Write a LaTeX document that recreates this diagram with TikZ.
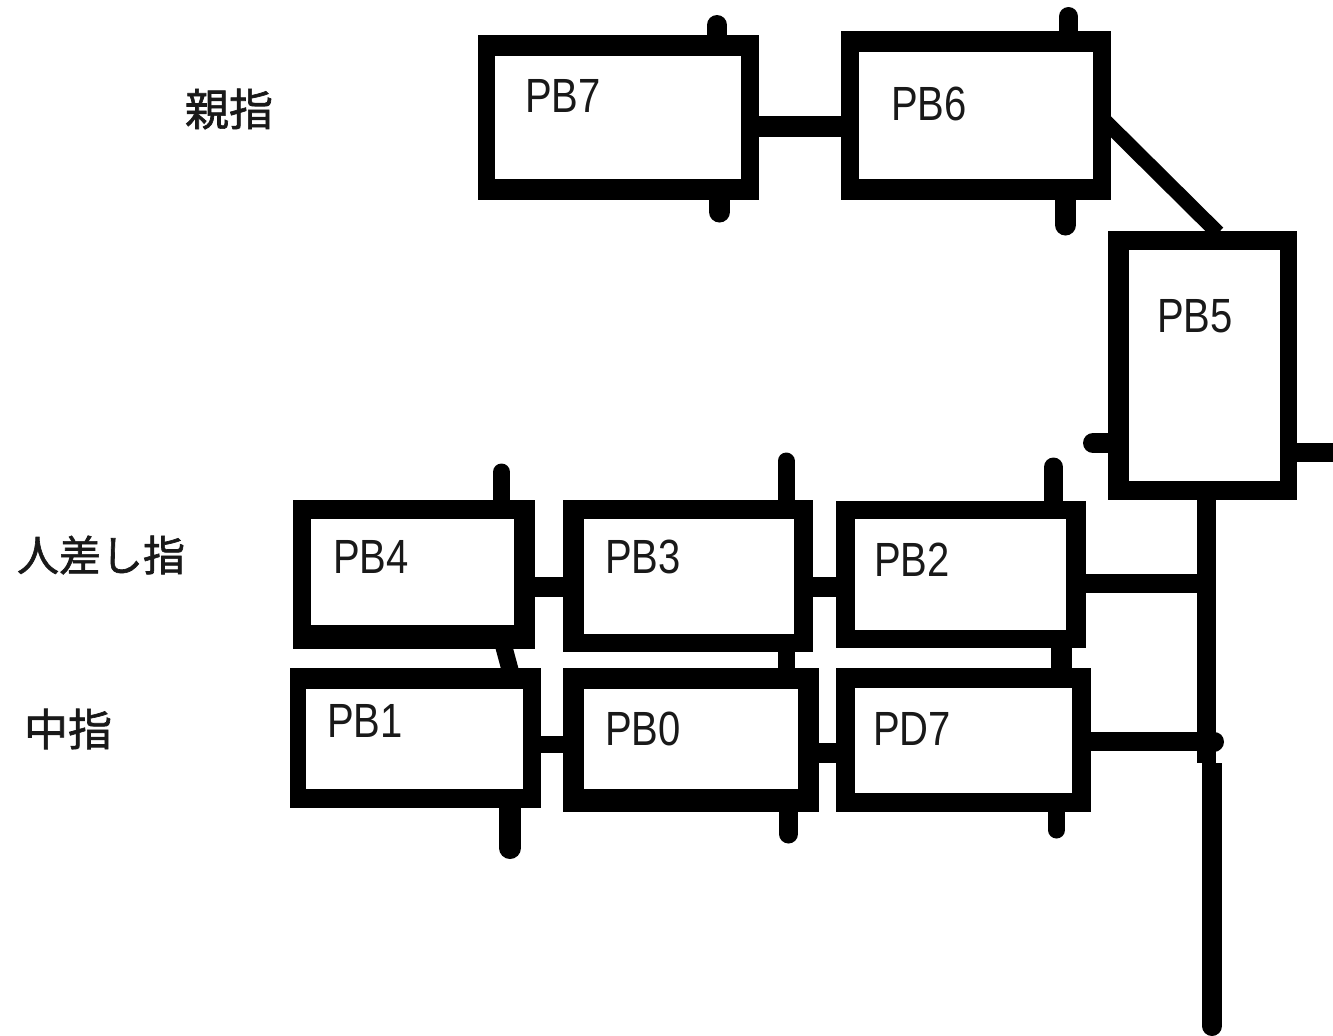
\documentclass[tikz,border=0pt]{standalone}
\usepackage{graphicx}
\usepackage{fontspec}
\setmainfont{Liberation Sans}
\newfontfamily\cjk[FakeBold=1.5]{Noto Sans CJK JP}
\tikzset{
  x=0.5pt,y=-0.5pt,
  frame/.style={fill=black,inner sep=0pt,outer sep=0pt,anchor=north west},
  hole/.style={fill=white,inner sep=0pt,outer sep=0pt,anchor=north west},
  lab/.style={font=\fontsize{20}{22}\selectfont,inner sep=0pt,text=black!90},
  jp/.style={font=\cjk\fontsize{#1}{24}\selectfont,inner sep=0pt,text=black!90},
  wire/.style={line width=#1,black},
  stub/.style={line width=#1,black,line cap=round}
}
\newcommand{\bx}[9]{%
  \node[frame,minimum width=(#4-#2)*0.5pt,minimum height=(#5-#3)*0.5pt] (#1) at (#2,#3) {};
  \node[hole,minimum width=(#8-#6)*0.5pt,minimum height=(#9-#7)*0.5pt] (#1i) at (#6,#7) {};}
\newcommand{\tall}[1]{\scalebox{1}[1.2]{#1}}
\begin{document}
\begin{tikzpicture}
\useasboundingbox (0,0) rectangle (1333,1035);
% boxes
\bx{pb7}{478}{35}{759}{200}{495}{56}{741}{179}
\bx{pb6}{841}{31}{1111}{200}{859}{52}{1093}{179}
\bx{pb5}{1108}{231}{1297}{500}{1129}{250}{1280}{481}
\bx{pb4}{293}{500}{535}{649}{311}{519}{514}{625}
\bx{pb3}{563}{500}{813}{652}{584}{519}{794}{634}
\bx{pb2}{836}{501}{1086}{648}{855}{519}{1066}{630}
\bx{pb1}{290}{668}{541}{808}{306}{689}{523}{789}
\bx{pb0}{563}{668}{819}{812}{584}{689}{798}{789}
\bx{pd7}{836}{668}{1091}{812}{855}{688}{1072}{793}
% stubs
\coordinate (s7t) at (717,25); \coordinate (s7b) at (719.5,212);
\coordinate (s6t) at (1068.5,16.5); \coordinate (s6b) at (1065.5,225);
\coordinate (s5l) at (1093,443); \coordinate (s5r) at (1333,452.5);
\coordinate (s4t) at (501.5,472); \coordinate (s3t) at (786,461); \coordinate (s2t) at (1053.5,467);
\coordinate (s1b) at (510,848); \coordinate (s0b) at (788.5,834); \coordinate (sdb) at (1056.5,830);
\draw[stub=10pt] (s7t) -- (s7t |- pb7.north);
\draw[stub=10.5pt] (s7b) -- (s7b |- pb7.south);
\draw[stub=9.5pt] (s6t) -- (s6t |- pb6.north);
\draw[stub=10.5pt] (s6b) -- (s6b |- pb6.south);
\draw[stub=10pt] (s5l) -- (s5l -| pb5.west);
\draw[wire=9.5pt] (s5r) -- (s5r -| pb5.east);
\draw[stub=8.5pt] (s4t) -- (s4t |- pb4.north);
\draw[stub=8.5pt] (s3t) -- (s3t |- pb3.north);
\draw[stub=9.5pt] (s2t) -- (s2t |- pb2.north);
\draw[stub=11pt] (s1b) -- (s1b |- pb1.south);
\draw[stub=9.5pt] (s0b) -- (s0b |- pb0.south);
\draw[stub=8.5pt] (sdb) -- (sdb |- pd7.south);
% links between the two rows
\coordinate (v41a) at (502,640); \coordinate (v41b) at (512,677);
\coordinate (v30) at (786,660); \coordinate (v27) at (1061,660);
\draw[wire=8.5pt] (v41a) -- (v41b);
\draw[wire=8.5pt] (v30 |- pb3.south) -- (v30 |- pb0.north);
\draw[wire=10.5pt] (v27 |- pb2.south) -- (v27 |- pd7.north);
% horizontal links
\coordinate (a76) at (800,126.5);
\coordinate (a43) at (550,587);
\coordinate (a32) at (825,587);
\coordinate (a10) at (552,744.5);
\coordinate (a07) at (828,753);
\draw[wire=10.5pt] (pb7.east |- a76) -- (pb6.west |- a76);
\draw[wire=10pt] (pb4.east |- a43) -- (pb3.west |- a43);
\draw[wire=10pt] (pb3.east |- a32) -- (pb2.west |- a32);
\draw[wire=8.5pt] (pb1.east |- a10) -- (pb0.west |- a10);
\draw[wire=10pt] (pb0.east |- a07) -- (pd7.west |- a07);
% diagonal link
\coordinate (a65) at (1105,121);
\coordinate (a56) at (1218,233);
\draw[wire=7.5pt] (a65) -- (a56);
% bus
\coordinate (bus0) at (1206.5,600);
\coordinate (busm) at (1206.5,763);
\coordinate (bus1) at (1212,763);
\coordinate (bus2) at (1212,1025);
\coordinate (b2) at (1150,583.5);
\coordinate (b7) at (1150,741.5);
\coordinate (dot) at (1214,741.5);
\draw[wire=9.5pt] (bus0 |- pb5.south) -- (busm);
\draw[wire=10pt] (bus1) -- (bus2);
\draw[stub=10pt] (bus2) -- ++(0,1);
\draw[wire=9.5pt] (pb2.east |- b2) -- (bus0 |- b2);
\draw[wire=9.5pt] (pd7.east |- b7) -- (bus0 |- b7);
\draw[stub=10pt] (bus0 |- dot) -- (dot);
% labels
\node[lab] (t7) at (563,96) {\tall{PB7}};
\node[lab] (t6) at (929,104) {\tall{PB6}};
\node[lab] (t5) at (1195,316) {\tall{PB5}};
\node[lab] (t4) at (371,557) {\tall{PB4}};
\node[lab] (t3) at (643,557) {\tall{PB3}};
\node[lab] (t2) at (912,560) {\tall{PB2}};
\node[lab] (t1) at (365,721) {\tall{PB1}};
\node[lab] (t0) at (643,729) {\tall{PB0}};
\node[lab] (td) at (912,729) {\tall{PD7}};
\node[jp=22] (j1) at (229,109) {親指};
\node[jp=21] (j2) at (101,555) {人差し指};
\node[jp=22] (j3) at (68,729) {中指};
\end{tikzpicture}
\end{document}
